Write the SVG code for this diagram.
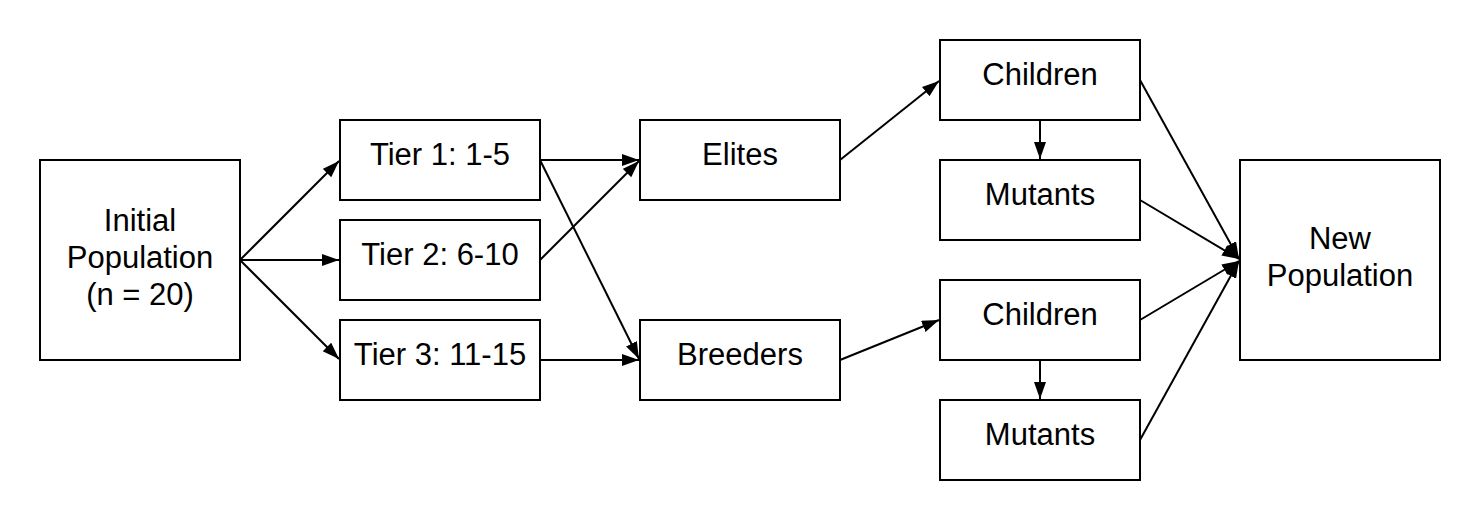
<svg xmlns="http://www.w3.org/2000/svg" width="1480" height="520" viewBox="0 0 1480 520">
<defs>
<style>
.box{fill:#fff;stroke:#000;stroke-width:2}
.lbl{font-family:"Liberation Sans",Arial,sans-serif;font-size:31px;fill:#000;text-anchor:middle}
.edge{fill:none;stroke:#000;stroke-width:2;marker-end:url(#ah)}
</style>
<marker id="ah" markerUnits="userSpaceOnUse" markerWidth="18" markerHeight="14" refX="17" refY="6" orient="auto">
<path d="M0,0 L17,6 L0,12 Z" fill="#000"/>
</marker>
</defs>
<rect width="1480" height="520" fill="#fff"/>
<g id="connectors">
<path class="edge" d="M240,260 L339,161"/>
<path class="edge" d="M240,260 L339,260"/>
<path class="edge" d="M240,260 L339,359"/>
<path class="edge" d="M540,160 L639,160"/>
<path class="edge" d="M540,160 L639,359"/>
<path class="edge" d="M540,260 L639,161"/>
<path class="edge" d="M540,360 L639,360"/>
<path class="edge" d="M840,160 L939,81"/>
<path class="edge" d="M840,360 L939,320"/>
<path class="edge" d="M1040,120 L1040,159"/>
<path class="edge" d="M1040,360 L1040,399"/>
<path class="edge" d="M1140,80 L1239,259"/>
<path class="edge" d="M1140,200 L1239,259"/>
<path class="edge" d="M1140,320 L1239,261"/>
<path class="edge" d="M1140,440 L1239,261"/>
</g>
<g id="initial"><rect class="box" x="40" y="160" width="200" height="200"/><text class="lbl" x="140" y="231">Initial</text><text class="lbl" x="140" y="268">Population</text><text class="lbl" x="140" y="305">(n = 20)</text></g>
<g id="tier1"><rect class="box" x="340" y="120" width="200" height="80"/><text class="lbl" x="440" y="165">Tier 1: 1-5</text></g>
<g id="tier2"><rect class="box" x="340" y="220" width="200" height="80"/><text class="lbl" x="440" y="265">Tier 2: 6-10</text></g>
<g id="tier3"><rect class="box" x="340" y="320" width="200" height="80"/><text class="lbl" x="440" y="365">Tier 3: 11-15</text></g>
<g id="elites"><rect class="box" x="640" y="120" width="200" height="80"/><text class="lbl" x="740" y="165">Elites</text></g>
<g id="breeders"><rect class="box" x="640" y="320" width="200" height="80"/><text class="lbl" x="740" y="365">Breeders</text></g>
<g id="children1"><rect class="box" x="940" y="40" width="200" height="80"/><text class="lbl" x="1040" y="85">Children</text></g>
<g id="mutants1"><rect class="box" x="940" y="160" width="200" height="80"/><text class="lbl" x="1040" y="205">Mutants</text></g>
<g id="children2"><rect class="box" x="940" y="280" width="200" height="80"/><text class="lbl" x="1040" y="325">Children</text></g>
<g id="mutants2"><rect class="box" x="940" y="400" width="200" height="80"/><text class="lbl" x="1040" y="445">Mutants</text></g>
<g id="newpop"><rect class="box" x="1240" y="160" width="200" height="200"/><text class="lbl" x="1340" y="249">New</text><text class="lbl" x="1340" y="286">Population</text></g>
</svg>
